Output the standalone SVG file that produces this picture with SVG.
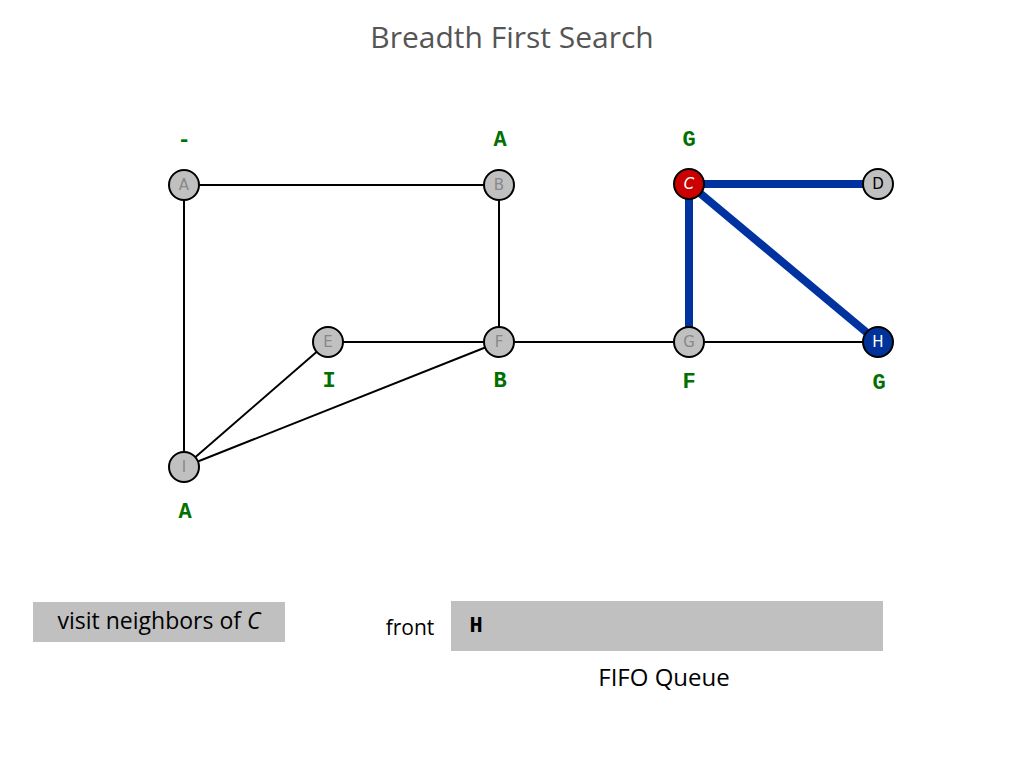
<svg xmlns="http://www.w3.org/2000/svg" width="1024" height="768" viewBox="0 0 1024 768">
<style>
.edge{stroke:#000;stroke-width:2;fill:none}
.tree{stroke:#0033a0;stroke-width:8;fill:none}
.node circle{stroke:#000;stroke-width:2;fill:#c0c0c0}
.nl{font-family:"DejaVu Sans",sans-serif;font-size:15px;text-anchor:middle;fill:#888}
.dist{font-family:"Liberation Mono",monospace;font-weight:bold;font-size:22px;fill:#007000;text-anchor:middle}
.txt{font-family:"Open Sans","DejaVu Sans",sans-serif;fill:#000}
</style>
<rect width="1024" height="768" fill="#fff"/>
<text x="512" y="48" text-anchor="middle" class="txt" style="font-size:30px;fill:#555">Breadth First Search</text>
<g id="connectors">
<line class="edge" x1="184" y1="185" x2="499" y2="185"/>
<line class="edge" x1="184" y1="185" x2="184" y2="467"/>
<line class="edge" x1="499" y1="185" x2="499" y2="342"/>
<line class="edge" x1="328" y1="342" x2="499" y2="342"/>
<line class="edge" x1="499" y1="342" x2="689" y2="342"/>
<line class="edge" x1="689" y1="342" x2="878" y2="342"/>
<line class="edge" x1="184" y1="467" x2="328" y2="342"/>
<line class="edge" x1="184" y1="467" x2="499" y2="342"/>
<line class="tree" x1="689" y1="184" x2="878" y2="184"/>
<line class="tree" x1="689" y1="184" x2="689" y2="342"/>
<line class="tree" x1="689" y1="184" x2="878" y2="342"/>
</g>
<g id="node-A" class="node"><circle cx="184" cy="185" r="15"/><text class="nl" x="184" y="190">A</text><text class="dist" x="184" y="146">-</text></g>
<g id="node-B" class="node"><circle cx="499" cy="185" r="15"/><text class="nl" x="499" y="190">B</text><text class="dist" x="500" y="146">A</text></g>
<g id="node-C" class="node"><circle cx="689" cy="184" r="15" style="fill:#cc0000"/><text class="nl" x="689" y="189" style="fill:#fff;font-style:italic">C</text><text class="dist" x="689" y="146">G</text></g>
<g id="node-D" class="node"><circle cx="878" cy="184" r="15"/><text class="nl" x="878" y="189" style="fill:#000">D</text></g>
<g id="node-E" class="node"><circle cx="328" cy="342" r="15"/><text class="nl" x="328" y="347">E</text><text class="dist" x="329" y="387">I</text></g>
<g id="node-F" class="node"><circle cx="499" cy="342" r="15"/><text class="nl" x="499" y="347">F</text><text class="dist" x="500" y="387">B</text></g>
<g id="node-G" class="node"><circle cx="689" cy="342" r="15"/><text class="nl" x="689" y="347">G</text><text class="dist" x="689" y="388">F</text></g>
<g id="node-H" class="node"><circle cx="878" cy="342" r="15" style="fill:#003399"/><text class="nl" x="878" y="347" style="fill:#fff">H</text><text class="dist" x="879" y="389">G</text></g>
<g id="node-I" class="node"><circle cx="184" cy="467" r="15"/><text class="nl" x="184" y="472">I</text><text class="dist" x="185" y="518">A</text></g>
<g id="status">
<rect x="33" y="602" width="252" height="40" fill="#c0c0c0"/>
<text x="159" y="629" text-anchor="middle" class="txt" style="font-size:23px">visit neighbors of <tspan font-style="italic">C</tspan></text>
</g>
<g id="queue">
<text x="410" y="635" text-anchor="middle" class="txt" style="font-size:21px">front</text>
<rect x="451" y="601" width="432" height="50" fill="#c0c0c0"/>
<text x="476" y="632" text-anchor="middle" style="font-family:'Liberation Mono',monospace;font-weight:bold;font-size:22px">H</text>
<text x="664" y="686" text-anchor="middle" class="txt" style="font-size:24px">FIFO Queue</text>
</g>
</svg>
